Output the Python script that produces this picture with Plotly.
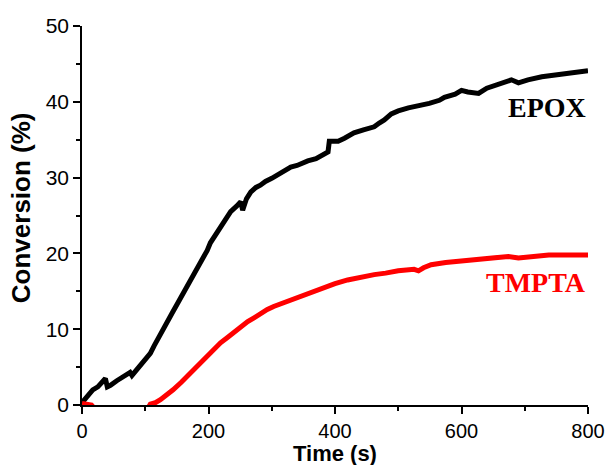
import plotly.graph_objects as go

# EPOX series (time s, conversion %)
epox_t = [0, 5, 10, 17, 25, 33, 37, 40, 45, 55, 65, 71, 76, 79, 85, 92, 100, 108, 114, 119,
          125, 130, 135, 143, 151, 159, 167, 175, 183, 190, 198, 203, 211, 219, 227, 235, 244,
          251, 254, 260, 267, 275, 282, 290, 300, 309, 320, 330, 340, 350, 357, 370, 383, 389,
          391, 405, 415, 430, 445, 462, 470, 478, 489, 500, 516, 530, 541, 549, 565, 573, 590,
          600, 610, 627, 640, 660, 679, 690, 705, 727, 750, 779, 800]
epox_y = [0.3, 0.8, 1.5, 2.0, 2.4, 3.0, 3.5, 2.4, 2.6, 3.2, 3.8, 4.2, 4.3, 3.9, 4.5, 5.0, 5.8, 6.8, 7.8, 8.6,
          9.6, 10.4, 11.2, 12.2, 13.4, 14.6, 15.6, 16.9, 18.2, 19.3, 20.4, 21.4, 22.4, 23.5, 24.5, 25.5, 26.2,
          26.8, 25.7, 27.2, 28.1, 28.7, 29.0, 29.5, 29.9, 30.3, 30.9, 31.4, 31.6, 32.0, 32.2, 32.5, 33.0, 33.4,
          34.8, 34.8, 35.2, 35.9, 36.3, 36.7, 37.2, 37.6, 38.4, 38.8, 39.2, 39.4, 39.6, 39.8, 40.2, 40.6, 41.0,
          41.5, 41.3, 41.1, 41.8, 42.3, 42.9, 42.5, 42.9, 43.3, 43.6, 43.9, 44.1]

# TMPTA series
tmpta_t = [0, 8, 15, 25, 60, 100, 108, 116, 124, 134, 144, 157, 171, 185, 198, 208, 219, 230, 240,
           251, 262, 272, 282, 293, 303, 316, 330, 344, 357, 370, 383, 400, 420, 441, 462, 480,
           500, 525, 532, 540, 552, 575, 605, 640, 674, 690, 710, 738, 770, 800]
tmpta_y = [0.2, 0.1, 0.0, -1.0, -1.0, -1.0, 0.1, 0.3, 0.7, 1.3, 2.0, 3.0, 4.2, 5.4, 6.6, 7.4, 8.2, 8.9, 9.6,
           10.2, 11.0, 11.5, 12.1, 12.6, 13.0, 13.4, 13.8, 14.4, 14.8, 15.2, 15.6, 16.0, 16.5, 16.9, 17.2, 17.4,
           17.7, 17.9, 17.7, 18.1, 18.5, 18.8, 19.0, 19.3, 19.6, 19.4, 19.6, 19.8, 19.8, 19.8]

x_ticks = [0, 200, 400, 600, 800]
y_ticks = [0, 10, 20, 30, 40, 50]

fig = go.Figure()
fig.add_trace(go.Scatter(x=epox_t, y=epox_y, mode="lines", name="EPOX",
                         line=dict(color="black", width=5)))
fig.add_trace(go.Scatter(x=tmpta_t, y=tmpta_y, mode="lines", name="TMPTA",
                         line=dict(color="#ff0000", width=5)))

fig.add_annotation(x=800, y=39.2, text="<b>EPOX</b>", showarrow=False, xanchor="right", yanchor="middle",
                   font=dict(family="Liberation Serif", size=28, color="black"))
fig.add_annotation(x=800, y=16.2, text="<b>TMPTA</b>", showarrow=False, xanchor="right", yanchor="middle",
                   font=dict(family="Liberation Serif", size=28, color="#ff0000"))

# axis titles placed as paper annotations
fig.add_annotation(x=0.5, y=-0.128, xref="paper", yref="paper", text="<b>Time (s)</b>", showarrow=False,
                   xanchor="center", yanchor="middle", borderpad=0,
                   font=dict(family="Liberation Sans", size=22, color="black"))
fig.add_annotation(x=-0.12, y=0.52, xref="paper", yref="paper", text="<b>Conversion (%)</b>", showarrow=False,
                   textangle=-90, xanchor="center", yanchor="middle",
                   font=dict(family="Liberation Sans", size=26, color="black"))

axis_common = dict(showline=True, linecolor="black", linewidth=1.5, ticks="outside", ticklen=7,
                   tickwidth=1.5, tickcolor="black", showgrid=False, zeroline=False, automargin=False)

fig.update_xaxes(range=[0, 800], tickvals=x_ticks,
                 tickfont=dict(family="Liberation Sans", size=20, color="black"),
                 minor=dict(ticks="outside", ticklen=4, tickwidth=1.5, tickcolor="black", dtick=100, tick0=0),
                 **axis_common)
fig.update_yaxes(range=[0, 50], tickvals=y_ticks,
                 tickfont=dict(family="Liberation Sans", size=21, color="black"),
                 minor=dict(ticks="outside", ticklen=4, tickwidth=1.5, tickcolor="black", dtick=5, tick0=0),
                 **axis_common)

fig.update_layout(width=610, height=465, margin=dict(l=82, r=22, t=26, b=60),
                  plot_bgcolor="white", paper_bgcolor="white", showlegend=False)

fig.write_html("out.html")
